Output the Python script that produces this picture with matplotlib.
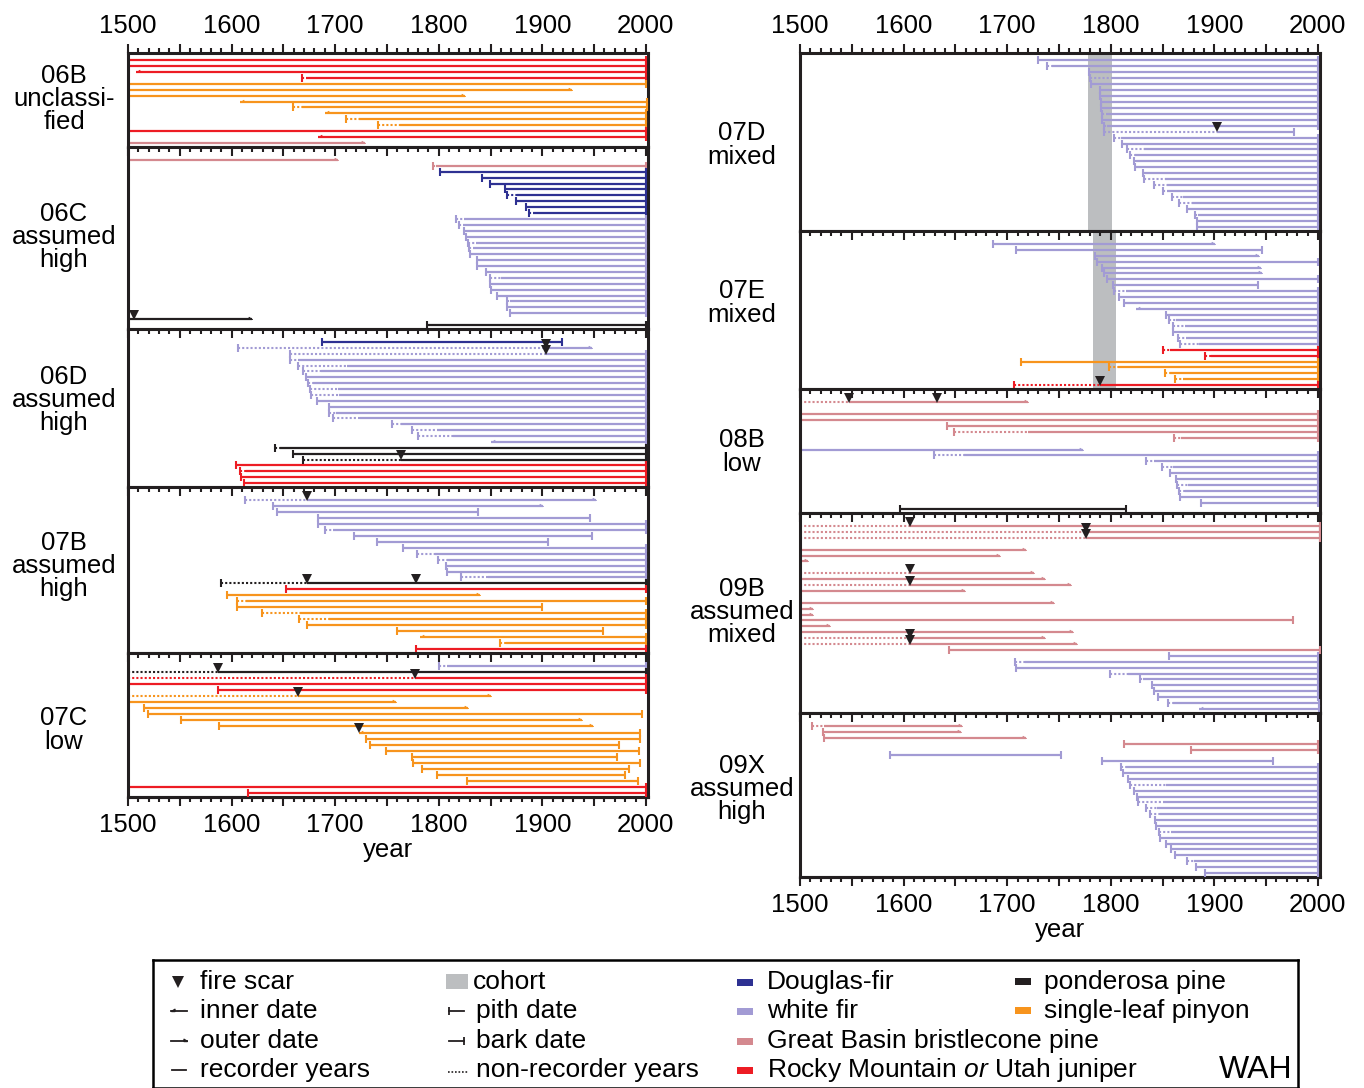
import matplotlib
matplotlib.use("Agg")
import matplotlib.pyplot as plt
from matplotlib.path import Path
from matplotlib.patches import Rectangle
from matplotlib.ticker import MultipleLocator, FuncFormatter

plt.rcParams['font.family'] = ['Liberation Sans', 'DejaVu Sans']
plt.rcParams['mathtext.fontset'] = 'custom'
plt.rcParams['mathtext.rm'] = 'Liberation Sans'
plt.rcParams['mathtext.it'] = 'Liberation Sans:italic'

# species colours
COL = {"DF": "#2e3192", "WF": "#a29bd4", "GB": "#d4898f",
       "RM": "#ed1c24", "PP": "#231f20", "SP": "#f7941d"}
COHORT = "#bcbec0"

# rows: (species, start, start kind p=pith i=inner, recorder start, end, end kind b=bark o=outer, fire scars)
P06B = [
    ("RM", 1500, "", None, 2000, "b", []),
    ("RM", 1500, "", None, 2000, "b", []),
    ("RM", 1508, "i", None, 2000, "b", []),
    ("RM", 1668, "p", 1672, 2000, "b", []),
    ("SP", 1500, "", None, 2000, "b", []),
    ("SP", 1500, "", None, 1929, "o", []),
    ("SP", 1500, "", None, 1825, "o", []),
    ("SP", 1608, "i", None, 2001, "b", []),
    ("SP", 1659, "p", 1668, 2001, "b", []),
    ("SP", 1690, "i", None, 2000, "b", []),
    ("SP", 1710, "p", 1723, 2000, "b", []),
    ("SP", 1741, "p", 1763, 2000, "b", []),
    ("RM", 1500, "", None, 2000, "b", []),
    ("RM", 1683, "i", None, 2000, "b", []),
    ("GB", 1500, "", None, 1729, "o", []),
]
P06C = [
    ("GB", 1500, "", None, 1703, "o", []),
    ("GB", 1794, "p", 1797, 2000, "b", []),
    ("DF", 1801, "p", None, 2000, "b", []),
    ("DF", 1842, "p", None, 2000, "b", []),
    ("DF", 1849, "p", None, 2000, "b", []),
    ("DF", 1864, "p", None, 2000, "b", []),
    ("DF", 1866, "p", 1876, 2000, "b", []),
    ("DF", 1875, "p", None, 2000, "b", []),
    ("DF", 1884, "p", None, 2000, "b", []),
    ("DF", 1887, "p", 1891, 2000, "b", []),
    ("WF", 1817, "p", 1824, 2000, "b", []),
    ("WF", 1820, "p", 1823, 2000, "b", []),
    ("WF", 1824, "p", None, 2000, "b", []),
    ("WF", 1826, "p", None, 2000, "b", []),
    ("WF", 1828, "p", 1836, 2000, "b", []),
    ("WF", 1829, "p", 1833, 2000, "b", []),
    ("WF", 1830, "p", None, 2000, "b", []),
    ("WF", 1837, "p", None, 2000, "b", []),
    ("WF", 1837, "p", None, 2000, "b", []),
    ("WF", 1846, "p", None, 2000, "b", []),
    ("WF", 1849, "p", 1860, 2000, "b", []),
    ("WF", 1849, "p", None, 2000, "b", []),
    ("WF", 1850, "p", None, 2000, "b", []),
    ("WF", 1856, "p", None, 2000, "b", []),
    ("WF", 1866, "p", 1869, 2000, "b", []),
    ("WF", 1866, "p", None, 2000, "b", []),
    ("WF", 1869, "p", None, 2000, "b", []),
    ("PP", 1502, "", None, 1620, "o", [1506]),
    ("PP", 1789, "p", None, 2000, "b", []),
]
P06D = [
    ("DF", 1687, "p", None, 1919, "b", []),
    ("WF", 1606, "p", 1904, 1948, "o", [1904]),
    ("WF", 1656, "p", 1904, 2000, "b", [1904]),
    ("WF", 1656, "p", 1664, 2000, "b", []),
    ("WF", 1664, "p", 1711, 2000, "b", []),
    ("WF", 1669, "p", 1686, 2000, "b", []),
    ("WF", 1672, "p", None, 2000, "b", []),
    ("WF", 1674, "p", 1679, 2000, "b", []),
    ("WF", 1676, "p", 1703, 2000, "b", []),
    ("WF", 1677, "p", 1704, 2000, "b", []),
    ("WF", 1682, "p", None, 2000, "b", []),
    ("WF", 1694, "p", None, 2000, "b", []),
    ("WF", 1694, "p", 1701, 2000, "b", []),
    ("WF", 1698, "p", 1724, 2000, "b", []),
    ("WF", 1755, "p", 1764, 2000, "b", []),
    ("WF", 1774, "p", 1798, 2000, "b", []),
    ("WF", 1780, "p", 1814, 2000, "b", []),
    ("WF", 1850, "i", None, 2000, "b", []),
    ("PP", 1642, "p", 1647, 2000, "b", []),
    ("PP", 1659, "p", None, 2000, "b", []),
    ("PP", 1669, "p", 1764, 2000, "b", [1764]),
    ("RM", 1604, "p", None, 2000, "b", []),
    ("RM", 1608, "p", 1614, 2000, "b", []),
    ("RM", 1609, "p", None, 2000, "b", []),
    ("RM", 1612, "p", None, 2000, "b", []),
]
P07B = [
    ("WF", 1613, "p", 1673, 1952, "o", [1673]),
    ("WF", 1640, "p", None, 1901, "o", []),
    ("WF", 1644, "p", None, 1838, "b", []),
    ("WF", 1683, "p", None, 1946, "b", []),
    ("WF", 1683, "p", None, 2000, "b", []),
    ("WF", 1690, "p", 1698, 2000, "b", []),
    ("WF", 1718, "p", None, 1948, "b", []),
    ("WF", 1740, "p", None, 1905, "b", []),
    ("WF", 1765, "p", None, 2000, "b", []),
    ("WF", 1779, "p", 1796, 2000, "b", []),
    ("WF", 1799, "p", 1808, 2000, "b", []),
    ("WF", 1807, "p", None, 2000, "b", []),
    ("WF", 1808, "p", None, 2000, "b", []),
    ("WF", 1821, "p", 1848, 2000, "b", []),
    ("PP", 1590, "p", 1673, 2000, "b", [1673, 1778]),
    ("RM", 1653, "p", None, 2000, "b", []),
    ("SP", 1596, "p", None, 1840, "o", []),
    ("SP", 1605, "p", 1614, 2000, "b", []),
    ("SP", 1605, "p", None, 1900, "b", []),
    ("SP", 1629, "p", 1666, 2000, "b", []),
    ("SP", 1665, "p", 1694, 2000, "b", []),
    ("SP", 1673, "p", None, 2000, "b", []),
    ("SP", 1760, "p", None, 1959, "b", []),
    ("SP", 1782, "i", None, 2000, "b", []),
    ("SP", 1859, "p", 1865, 2000, "b", []),
    ("RM", 1778, "p", None, 2000, "b", []),
]
P07C = [
    ("WF", 1800, "p", 1808, 2000, "b", []),
    ("PP", 1500, "", 1587, 2000, "b", [1587]),
    ("RM", 1500, "", 1777, 2000, "b", [1777]),
    ("RM", 1500, "", None, 2000, "b", []),
    ("RM", 1587, "p", None, 2000, "b", []),
    ("SP", 1500, "", 1664, 1850, "o", [1664]),
    ("SP", 1500, "", None, 1759, "o", []),
    ("SP", 1515, "p", None, 1828, "o", []),
    ("SP", 1519, "p", None, 1996, "b", []),
    ("SP", 1551, "p", None, 1938, "o", []),
    ("SP", 1588, "p", None, 1949, "o", []),
    ("SP", 1723, "i", None, 1994, "b", [1723]),
    ("SP", 1730, "p", None, 1994, "b", []),
    ("SP", 1734, "p", None, 1974, "b", []),
    ("SP", 1749, "p", None, 1993, "b", []),
    ("SP", 1774, "p", None, 1972, "b", []),
    ("SP", 1775, "p", None, 1994, "b", []),
    ("SP", 1784, "p", None, 1984, "b", []),
    ("SP", 1798, "p", None, 1980, "b", []),
    ("SP", 1827, "p", None, 1992, "b", []),
    ("RM", 1500, "", None, 2000, "b", []),
    ("RM", 1616, "p", None, 2000, "b", []),
]
P07D = [
    ("WF", 1730, "p", None, 2000, "b", []),
    ("WF", 1738, "p", 1743, 2000, "b", []),
    ("WF", 1779, "p", None, 2000, "b", []),
    ("WF", 1780, "p", 1800, 2000, "b", []),
    ("WF", 1781, "p", None, 2000, "b", []),
    ("WF", 1790, "p", None, 2000, "b", []),
    ("WF", 1790, "p", None, 2000, "b", []),
    ("WF", 1791, "p", None, 2000, "b", []),
    ("WF", 1791, "p", None, 2000, "b", []),
    ("WF", 1792, "p", 1795, 2000, "b", []),
    ("WF", 1792, "p", None, 2000, "b", []),
    ("WF", 1793, "p", 1796, 2000, "b", []),
    ("WF", 1793, "p", 1903, 1977, "b", [1903]),
    ("WF", 1803, "p", 1810, 2000, "b", []),
    ("WF", 1811, "p", None, 2000, "b", []),
    ("WF", 1816, "p", 1832, 2000, "b", []),
    ("WF", 1819, "p", 1823, 2000, "b", []),
    ("WF", 1822, "p", 1824, 2000, "b", []),
    ("WF", 1823, "p", None, 2000, "b", []),
    ("WF", 1831, "p", None, 2000, "b", []),
    ("WF", 1832, "p", 1852, 2000, "b", []),
    ("WF", 1842, "p", 1854, 2000, "b", []),
    ("WF", 1850, "p", 1854, 2000, "b", []),
    ("WF", 1859, "p", 1870, 2000, "b", []),
    ("WF", 1866, "p", 1878, 2000, "b", []),
    ("WF", 1874, "p", None, 2000, "b", []),
    ("WF", 1881, "p", 1884, 2000, "b", []),
    ("WF", 1883, "p", None, 2000, "b", []),
    ("WF", 1883, "p", None, 2000, "b", []),
]
P07E = [
    ("WF", 1686, "p", None, 1901, "o", []),
    ("WF", 1709, "p", None, 1946, "b", []),
    ("WF", 1785, "p", None, 1943, "o", []),
    ("WF", 1787, "p", None, 2000, "b", []),
    ("WF", 1792, "p", None, 1945, "o", []),
    ("WF", 1793, "p", None, 1946, "o", []),
    ("WF", 1796, "p", None, 2000, "b", []),
    ("WF", 1802, "p", None, 1942, "b", []),
    ("WF", 1803, "p", 1815, 2000, "b", []),
    ("WF", 1808, "p", None, 2000, "b", []),
    ("WF", 1813, "p", None, 2000, "b", []),
    ("WF", 1824, "i", None, 2000, "b", []),
    ("WF", 1853, "p", None, 2000, "b", []),
    ("WF", 1856, "p", 1863, 2000, "b", []),
    ("WF", 1860, "p", 1872, 2000, "b", []),
    ("WF", 1860, "p", None, 2000, "b", []),
    ("WF", 1865, "p", 1873, 2000, "b", []),
    ("WF", 1867, "p", 1885, 2000, "b", []),
    ("RM", 1850, "p", 1857, 2000, "b", []),
    ("RM", 1891, "p", 1897, 2000, "b", []),
    ("SP", 1713, "p", None, 2000, "b", []),
    ("SP", 1798, "p", 1807, 2000, "b", []),
    ("SP", 1852, "p", 1857, 2000, "b", []),
    ("SP", 1862, "p", 1870, 2000, "b", []),
    ("RM", 1707, "p", 1790, 2000, "b", [1790]),
]
P08B = [
    ("GB", 1500, "", 1547, 1720, "o", [1547, 1632]),
    None,
    ("GB", 1500, "", None, 2000, "b", []),
    ("GB", 1500, "", None, 2000, "b", []),
    ("GB", 1642, "p", None, 2000, "b", []),
    ("GB", 1649, "p", 1720, 2000, "b", []),
    ("GB", 1861, "p", 1868, 2000, "b", []),
    None,
    ("WF", 1500, "", None, 1773, "o", []),
    ("WF", 1629, "p", 1658, 2000, "b", []),
    ("WF", 1834, "p", 1842, 2000, "b", []),
    ("WF", 1849, "p", 1860, 2000, "b", []),
    ("WF", 1857, "p", None, 2000, "b", []),
    ("WF", 1863, "p", None, 2000, "b", []),
    ("WF", 1864, "p", 1875, 2000, "b", []),
    ("WF", 1866, "p", 1872, 2000, "b", []),
    ("WF", 1867, "p", None, 2000, "b", []),
    ("WF", 1887, "p", None, 2000, "b", []),
    ("PP", 1597, "p", None, 1815, "b", []),
]
P09B = [
    ("GB", 1500, "", 1606, 2002, "b", [1606]),
    ("GB", 1500, "", 1776, 2002, "b", [1776]),
    ("GB", 1500, "", 1776, 2002, "b", [1776]),
    None,
    ("GB", 1500, "", None, 1718, "o", []),
    ("GB", 1500, "", None, 1693, "o", []),
    ("GB", 1500, "", None, 1508, "o", []),
    None,
    ("GB", 1500, "", 1606, 1726, "o", [1606]),
    ("GB", 1500, "", None, 1737, "o", []),
    ("GB", 1500, "", 1606, 1762, "o", [1606]),
    ("GB", 1500, "", None, 1659, "o", []),
    None,
    ("GB", 1500, "", None, 1745, "o", []),
    ("GB", 1500, "", None, 1513, "o", []),
    ("GB", 1500, "", None, 1513, "o", []),
    ("GB", 1500, "", None, 1976, "b", []),
    ("GB", 1500, "", None, 1529, "o", []),
    ("GB", 1500, "", None, 1764, "o", []),
    ("GB", 1500, "", 1606, 1737, "o", [1606]),
    ("GB", 1500, "", 1606, 1767, "o", [1606]),
    ("GB", 1644, "p", None, 2002, "b", []),
    ("WF", 1856, "p", None, 2000, "b", []),
    ("WF", 1708, "p", 1717, 2000, "b", []),
    ("WF", 1709, "p", None, 2000, "b", []),
    ("WF", 1799, "p", 1817, 2000, "b", []),
    ("WF", 1828, "p", 1831, 2000, "b", []),
    ("WF", 1840, "p", None, 2000, "b", []),
    ("WF", 1842, "p", None, 2000, "b", []),
    ("WF", 1846, "p", None, 2000, "b", []),
    ("WF", 1855, "p", 1860, 2001, "b", []),
    ("WF", 1885, "i", None, 2001, "b", []),
]
P09X = [
    ("GB", 1512, "p", 1523, 1656, "o", []),
    ("GB", 1522, "p", None, 1655, "o", []),
    ("GB", 1523, "p", None, 1718, "o", []),
    ("GB", 1813, "p", None, 2000, "b", []),
    ("GB", 1877, "p", None, 2000, "b", []),
    ("WF", 1587, "p", None, 1752, "b", []),
    ("WF", 1792, "p", None, 1957, "b", []),
    ("WF", 1810, "p", 1815, 2000, "b", []),
    ("WF", 1812, "p", None, 2000, "b", []),
    ("WF", 1817, "p", None, 2000, "b", []),
    ("WF", 1819, "p", 1853, 2000, "b", []),
    ("WF", 1822, "p", None, 2000, "b", []),
    ("WF", 1825, "p", None, 2000, "b", []),
    ("WF", 1826, "p", 1850, 2000, "b", []),
    ("WF", 1834, "p", 1845, 2000, "b", []),
    ("WF", 1838, "p", 1848, 2000, "b", []),
    ("WF", 1843, "p", None, 2000, "b", []),
    ("WF", 1844, "p", None, 2000, "b", []),
    ("WF", 1847, "p", 1858, 2000, "b", []),
    ("WF", 1848, "p", None, 2000, "b", []),
    ("WF", 1853, "p", None, 2000, "b", []),
    ("WF", 1858, "p", None, 2000, "b", []),
    ("WF", 1862, "p", None, 2000, "b", []),
    ("WF", 1874, "p", 1880, 2000, "b", []),
    ("WF", 1882, "p", None, 2000, "b", []),
    ("WF", 1891, "p", None, 2000, "b", []),
]

COHORT_07D = (1778, 1801)
COHORT_07E = (1783, 1805)

# panel label, rows, cohort, pixel box (top, bottom), label centre y
LEFT = [
    ("06B\nunclassi-\nfied", P06B, None, 53, 147, 99),
    ("06C\nassumed\nhigh", P06C, None, 147, 329, 237),
    ("06D\nassumed\nhigh", P06D, None, 329, 487, 400),
    ("07B\nassumed\nhigh", P07B, None, 487, 653, 566),
    ("07C\nlow", P07C, None, 653, 797, 730),
]
RIGHT = [
    ("07D\nmixed", P07D, COHORT_07D, 53, 231, 145),
    ("07E\nmixed", P07E, COHORT_07E, 231, 389, 303),
    ("08B\nlow", P08B, None, 389, 513, 452),
    ("09B\nassumed\nmixed", P09B, None, 513, 713, 612),
    ("09X\nassumed\nhigh", P09X, None, 713, 877, 789),
]

W, H = 1364, 1088
FS = 18.5
fig = plt.figure(figsize=(W / 100, H / 100), dpi=100)

INNER = Path([(0, 0), (1.4, 0.0), (1.4, 0.9), (0, 0)])
OUTER = Path([(0, 0), (-1.4, 0.0), (-1.4, 0.9), (0, 0)])


def year_fmt(v, p):
    return f"{int(round(v))}" if round(v) % 100 == 0 else ""


def set_ticks(axis):
    axis.set_major_locator(MultipleLocator(50))
    axis.set_minor_locator(MultipleLocator(10))
    axis.set_major_formatter(FuncFormatter(year_fmt))


def panel(x0, x1, label, rows, cohort, t, b, ly, lx, top, bottom):
    ax = fig.add_axes([x0 / W, 1 - b / H, (x1 - x0) / W, (b - t) / H])
    n = len(rows)
    off_t = 7 if top else 13
    off_b = 4
    s = ((b - t) - off_t - off_b) / (n - 1)
    ax.set_xlim(1500, 2002)
    ax.set_ylim(n - 1 + off_b / s, -off_t / s)
    ax.set_yticks([])
    for sp in ax.spines.values():
        sp.set_linewidth(2.2)
        sp.set_color("#231f20")
    set_ticks(ax.xaxis)
    ax.tick_params(axis="x", which="both", top=True, bottom=False,
                   labelbottom=False, labeltop=top,
                   direction="out" if top else "in", width=1.5,
                   color="#231f20")
    ax.tick_params(axis="x", which="major", length=6.5, labelsize=FS, pad=4)
    ax.tick_params(axis="x", which="minor", length=3.5)
    if cohort:
        ax.axvspan(cohort[0], cohort[1], color=COHORT, lw=0, zorder=0)

    for i, r in enumerate(rows):
        if r is None:
            continue
        sp, st, sk, rec, en, ek, scars = r
        c = COL[sp]
        if rec is None:
            rec = st
        if rec > st:
            ax.plot([st, rec], [i, i], color=c, lw=1.5,
                    ls=(0, (1, 1.0)), zorder=2)
        ax.plot([rec, en], [i, i], color=c, lw=1.6,
                solid_capstyle="butt", zorder=2)
        if sk == "p":
            ax.plot(st, i, marker="|", ms=5.5, mew=1.5, color=c, zorder=3)
        elif sk == "i":
            ax.plot(st, i, marker=INNER, ms=5, mew=0.6, color=c, zorder=3)
        if ek == "b":
            ax.plot(en, i, marker="|", ms=5.5, mew=1.5, color=c, zorder=3)
        elif ek == "o":
            ax.plot(en, i, marker=OUTER, ms=5, mew=0.6, color=c, zorder=3)
        for f in scars:
            ax.plot(f, i - 0.72, marker="v", ms=6.5, color="#231f20",
                    mew=0, zorder=4)

    if bottom:
        sec = ax.secondary_xaxis("bottom")
        set_ticks(sec.xaxis)
        sec.tick_params(axis="x", which="both", direction="out", width=1.5,
                        color="#231f20")
        sec.tick_params(axis="x", which="major", length=6.5,
                        labelsize=FS, pad=5)
        sec.tick_params(axis="x", which="minor", length=3.5)
        sec.spines["bottom"].set_linewidth(2.2)
        sec.set_xlabel("year", fontsize=FS, labelpad=1)

    fig.text(lx / W, 1 - ly / H, label, ha="center", va="center",
             fontsize=FS, linespacing=0.96, multialignment="center")
    return ax


for k, (lab, rows, coh, t, b, ly) in enumerate(LEFT):
    panel(128, 648, lab, rows, coh, t, b, ly, 64, k == 0, k == len(LEFT) - 1)
for k, (lab, rows, coh, t, b, ly) in enumerate(RIGHT):
    panel(800, 1320, lab, rows, coh, t, b, ly, 742, k == 0, k == len(RIGHT) - 1)

# legend box, drawn in pixel coordinates
lg = fig.add_axes([153 / W, 0, (1298 - 153) / W, (H - 960) / H])
lg.set_xlim(153, 1298)
lg.set_ylim(H, 960)
lg.set_xticks([])
lg.set_yticks([])
for sp in lg.spines.values():
    sp.set_linewidth(1.8)
ry = [982, 1011, 1041, 1070]
LFS = 19
k = "#231f20"
lg.plot(178, ry[0], marker="v", ms=8, color=k, mew=0)
lg.plot([171, 187], [ry[1], ry[1]], color=k, lw=1.3)
lg.plot(171, ry[1], marker=INNER, ms=5, color=k)
lg.plot([171, 187], [ry[2], ry[2]], color=k, lw=1.3)
lg.plot(187, ry[2], marker=OUTER, ms=5, color=k)
lg.plot([172, 186], [ry[3], ry[3]], color=k, lw=1.3)
for y, txt in zip(ry, ["fire scar", "inner date", "outer date", "recorder years"]):
    lg.text(200, y, txt, fontsize=LFS, va="center", ha="left")

lg.add_patch(Rectangle((446, ry[0] - 8), 22, 15, color=COHORT, lw=0))
lg.plot([449, 464], [ry[1], ry[1]], color=k, lw=1.3)
lg.plot(449, ry[1], marker="|", ms=6, mew=1.3, color=k)
lg.plot([449, 464], [ry[2], ry[2]], color=k, lw=1.3)
lg.plot(464, ry[2], marker="|", ms=6, mew=1.3, color=k)
lg.plot([448, 468], [ry[3] + 2, ry[3] + 2], color=k, lw=1.2, ls=(0, (1, 1.1)))
lg.text(473, ry[0], "cohort", fontsize=LFS, va="center", ha="left")
for y, txt in zip(ry[1:], ["pith date", "bark date", "non-recorder years"]):
    lg.text(476, y, txt, fontsize=LFS, va="center", ha="left")

sp_col3 = [("DF", "Douglas-fir"), ("WF", "white fir"),
           ("GB", "Great Basin bristlecone pine"),
           ("RM", r"Rocky Mountain $\mathit{or}$ Utah juniper")]
for y, (code, txt) in zip(ry, sp_col3):
    lg.add_patch(Rectangle((737, y - 3), 16, 7, color=COL[code], lw=0))
    lg.text(767, y, txt, fontsize=LFS, va="center", ha="left")
sp_col4 = [("PP", "ponderosa pine"), ("SP", "single-leaf pinyon")]
for y, (code, txt) in zip(ry, sp_col4):
    lg.add_patch(Rectangle((1015, y - 4), 16, 7, color=COL[code], lw=0))
    lg.text(1044, y, txt, fontsize=LFS, va="center", ha="left")
lg.text(1292, 1070, "WAH", fontsize=23, va="center", ha="right")

fig.savefig("out.png", dpi=100)
